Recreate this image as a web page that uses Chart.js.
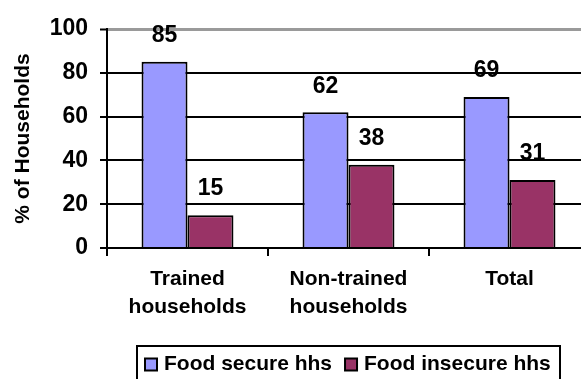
<!DOCTYPE html>
<html>
<head>
<meta charset="utf-8">
<script src="https://cdn.jsdelivr.net/npm/chart.js@4/dist/chart.umd.min.js"></script>
<style>
  html, body { margin: 0; padding: 0; background: #fff; overflow: hidden; }
  #wrap { position: relative; width: 590px; height: 379px; }
</style>
</head>
<body>
<div id="wrap"><canvas id="c"></canvas></div>
<script>
// Household food security by training status
const categories = [["Trained", "households"], ["Non-trained", "households"], ["Total"]];
const seriesNames = ["Food secure hhs", "Food insecure hhs"];
const foodSecure = [85, 62, 69];
const foodInsecure = [15, 38, 31];
const yTickValues = [0, 20, 40, 60, 80, 100];
const yAxisTitle = "% of Households";

const FONT = '"Liberation Sans", Arial, Helvetica, sans-serif';
Chart.defaults.font.family = FONT;
Chart.defaults.color = '#000';

// value printed above each bar
const barValues = {
  id: 'barValues',
  afterDatasetsDraw(chart) {
    const ctx = chart.ctx;
    ctx.save();
    ctx.font = 'bold 23px ' + FONT;
    ctx.fillStyle = '#000';
    ctx.textAlign = 'center';
    ctx.textBaseline = 'middle';
    chart.data.datasets.forEach((ds, i) => {
      chart.getDatasetMeta(i).data.forEach((bar, j) => {
        ctx.fillText(String(ds.data[j]), bar.x, bar.y - 26);
      });
    });
    ctx.restore();
  }
};

// framed legend under the plot
const boxLegend = {
  id: 'boxLegend',
  afterDraw(chart) {
    const ctx = chart.ctx;
    const L = 137, T = 346, W = 423, H = 37;
    ctx.save();
    ctx.lineWidth = 2;
    ctx.strokeStyle = '#000';
    ctx.strokeRect(L, T, W, H);
    ctx.font = 'bold 21px ' + FONT;
    ctx.textBaseline = 'middle';
    ctx.textAlign = 'left';
    const cy = T + 18.5;
    let x = L + 8;
    chart.data.datasets.forEach(ds => {
      ctx.fillStyle = ds.backgroundColor;
      ctx.fillRect(x, cy - 6, 12, 12);
      ctx.lineWidth = 2;
      ctx.strokeRect(x, cy - 6, 12, 12);
      x += 19;
      ctx.fillStyle = '#000';
      ctx.fillText(ds.label, x, cy);
      x += ctx.measureText(ds.label).width + 13;
    });
    ctx.restore();
  }
};

new Chart(document.getElementById('c'), {
  type: 'bar',
  data: {
    labels: categories,
    datasets: [
      { label: seriesNames[0], data: foodSecure, backgroundColor: '#9999FF',
        borderColor: '#000', borderWidth: 2 },
      { label: seriesNames[1], data: foodInsecure, backgroundColor: '#993366',
        borderColor: '#000', borderWidth: 2 }
    ]
  },
  options: {
    responsive: true,
    maintainAspectRatio: false,
    animation: false,
    events: [],
    categoryPercentage: 0.571,
    barPercentage: 1.0,
    layout: { padding: { left: 11, top: 29, right: 0, bottom: 59 } },
    plugins: {
      legend: { display: false },
      tooltip: { enabled: false }
    },
    scales: {
      x: {
        offset: true,
        grid: { drawOnChartArea: false, drawTicks: true, tickLength: 8,
                color: '#000', lineWidth: 2, offset: true },
        border: { display: true, color: '#000', width: 2 },
        ticks: { font: { size: 21, weight: 'bold', lineHeight: 1.3 }, color: '#000',
                 padding: 10, maxRotation: 0, autoSkip: false },
        afterFit(scale) { scale.height = 72; }
      },
      y: {
        min: 0, max: 100,
        afterBuildTicks(scale) { scale.ticks = yTickValues.map(v => ({ value: v })); },
        grid: {
          drawTicks: true, tickLength: 7,
          color: ctx => (ctx.tick && ctx.tick.value === 100) ? '#9a9a9a' : '#000',
          lineWidth: ctx => (ctx.tick && ctx.tick.value === 100) ? 3 : 2,
          tickColor: '#000', tickWidth: 2
        },
        border: { display: true, color: '#000', width: 2 },
        ticks: { font: { size: 23, weight: 'bold' }, color: '#000', padding: 12 },
        title: { display: true, text: yAxisTitle, color: '#000', padding: 0,
                 font: { size: 21, weight: 'bold', lineHeight: 1.2 } },
        afterFit(scale) { scale.width = 96; }
      }
    }
  },
  plugins: [barValues, boxLegend]
});
</script>
</body>
</html>
